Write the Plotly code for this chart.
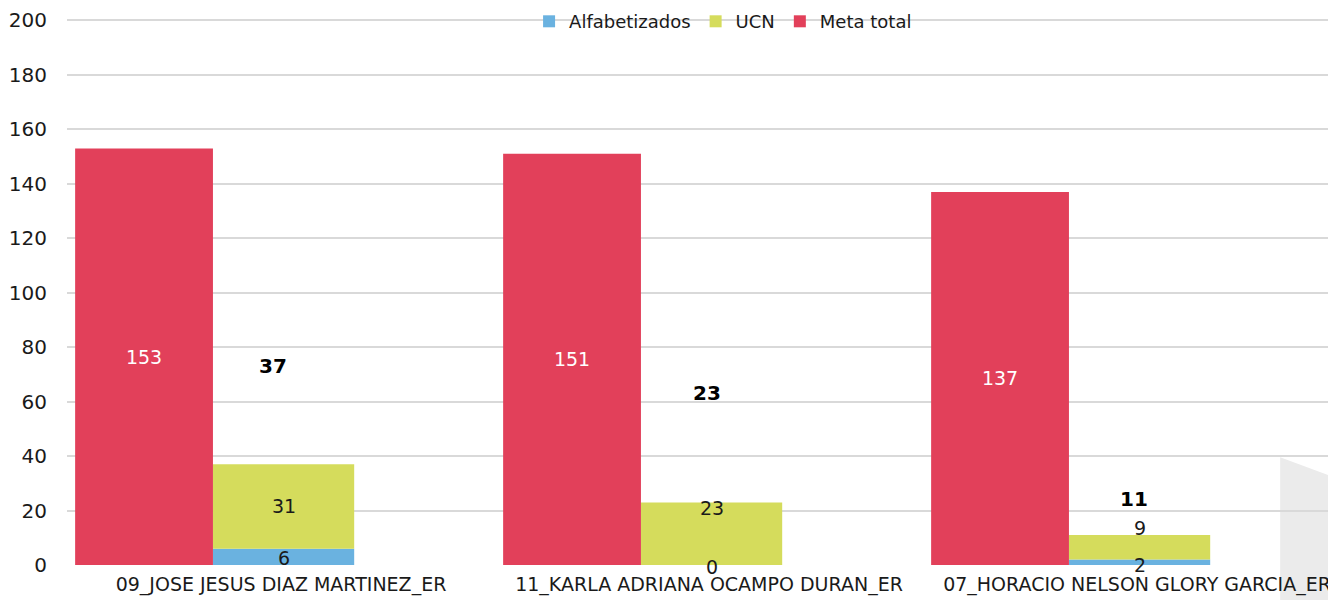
import plotly.graph_objects as go

categories = ["09_JOSE JESUS DIAZ MARTINEZ_ER", "11_KARLA ADRIANA OCAMPO DURAN_ER", "07_HORACIO NELSON GLORY GARCIA_ER"]
alfabetizados = [6, 0, 2]
ucn = [31, 23, 9]
meta_total = [153, 151, 137]
totales = [37, 23, 11]
y_ticks = [0, 20, 40, 60, 80, 100, 120, 140, 160, 180, 200]

RED = "#E2405A"
YEL = "#D5DC5C"
BLUE = "#6AB2E0"
FONT = "DejaVu Sans"

xs = list(range(len(categories)))
red_off, red_w = -0.481, 0.322
stk_off, stk_w = -0.159, 0.330

fig = go.Figure()
fig.add_trace(go.Bar(name="Alfabetizados", x=xs, y=alfabetizados, offset=stk_off, width=stk_w,
                     marker=dict(color=BLUE, line=dict(width=0))))
fig.add_trace(go.Bar(name="UCN", x=xs, y=ucn, base=alfabetizados, offset=stk_off, width=stk_w,
                     marker=dict(color=YEL, line=dict(width=0))))
fig.add_trace(go.Bar(name="Meta total", x=xs, y=meta_total, offset=red_off, width=red_w,
                     marker=dict(color=RED, line=dict(width=0)),
                     text=[str(v) for v in meta_total], textposition="inside",
                     insidetextanchor="middle", textangle=0,
                     textfont=dict(color="white", size=19, family=FONT)))

annotations = []
stk_center = stk_off + stk_w / 2
ucn_shift = [0, 26, 19]
alf_shift = [-1, -2, -3]
tot_shift = [98, 109, 36]
tot_xshift = [-11, -5, -6]
for i in xs:
    annotations.append(dict(x=i + stk_center, y=alfabetizados[i] + ucn[i] / 2, text=str(ucn[i]),
                            showarrow=False, yshift=ucn_shift[i],
                            font=dict(size=19, color="#1a1a1a", family=FONT)))
    annotations.append(dict(x=i + stk_center, y=alfabetizados[i] / 2, text=str(alfabetizados[i]),
                            showarrow=False, yshift=alf_shift[i],
                            font=dict(size=19, color="#1a1a1a", family=FONT)))
    annotations.append(dict(x=i + stk_center, y=totales[i], text="<b>%d</b>" % totales[i],
                            showarrow=False, yshift=tot_shift[i], xshift=tot_xshift[i],
                            font=dict(size=20, color="black", family=FONT)))

# page body has an 8px default margin: figure is drawn 8px right/down
plot_w = 1336 - 67
cat_px = 428

fig.update_layout(
    width=1328, height=592,
    margin=dict(l=59, r=0, t=7, b=35, autoexpand=False),
    barmode="overlay",
    plot_bgcolor="white", paper_bgcolor="white",
    font=dict(family=FONT, size=18, color="#1a1a1a"),
    showlegend=True,
    legend=dict(orientation="h", x=0.517, xanchor="center", y=0.988, yanchor="middle",
                bgcolor="rgba(0,0,0,0)", font=dict(size=18, family=FONT), traceorder="normal",
                itemwidth=30),
    annotations=annotations,
    shapes=[dict(type="path", xref="paper", yref="paper",
                 path="M 0.956 0.196 L 1.0 0.158 L 1.0 -0.07 L 0.956 -0.07 Z",
                 fillcolor="#EBEBEB", line=dict(width=0), layer="below")],
)
fig.update_xaxes(range=[-0.5, -0.5 + plot_w / cat_px], tickmode="array", tickvals=xs,
                 ticktext=categories, showgrid=False, zeroline=False, showline=False,
                 automargin=False, ticklabelstandoff=6,
                 tickfont=dict(size=19, family=FONT, color="#1a1a1a"), ticks="")
fig.update_yaxes(range=[0, 202], tickvals=y_ticks, showgrid=True, gridcolor="#D9D9D9",
                 gridwidth=1.5, zeroline=False, showline=False, ticks="",
                 ticklabelstandoff=19, automargin=False,
                 tickfont=dict(size=20, family=FONT, color="#1a1a1a"))

fig.write_html("out.html")
